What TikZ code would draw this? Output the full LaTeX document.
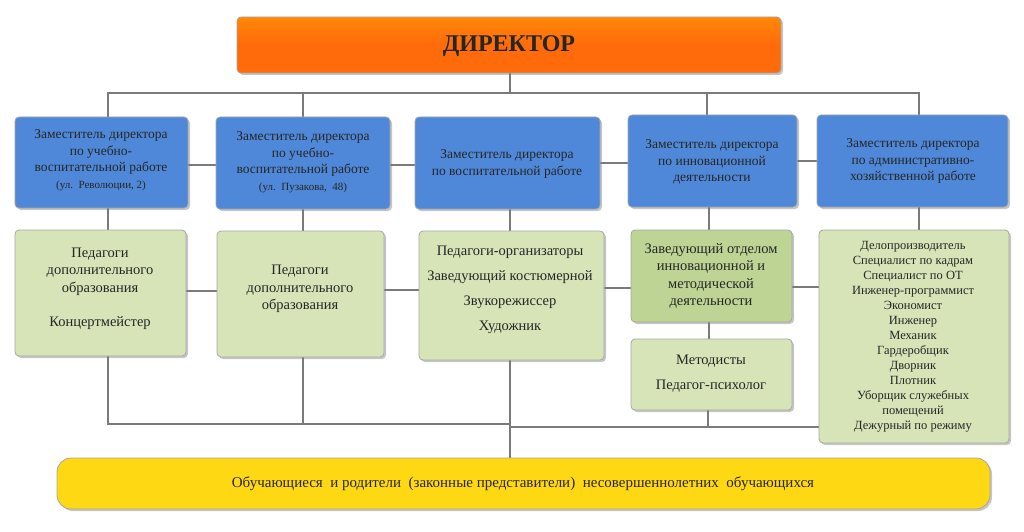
\documentclass[tikz,border=0pt]{standalone}
\usepackage{fontspec}
\setmainfont{Liberation Serif}
\usetikzlibrary{shadows}
\definecolor{bl}{HTML}{4F88D8}
\definecolor{gr}{HTML}{D6E4B8}
\definecolor{gr2}{HTML}{BDD494}
\definecolor{org}{HTML}{FF6A0A}
\definecolor{yel}{HTML}{FFD814}
\definecolor{ln}{HTML}{7A7A7A}
\tikzset{
 bx/.style={draw=gray!70,line width=0.8pt,rounded corners=4pt,drop shadow={opacity=0.45,shadow xshift=2pt,shadow yshift=-2pt}},
 conn/.style={draw=ln,line width=1.4pt},
 t/.style={font=\fontsize{13.5}{16.5}\selectfont,align=center,text=black!85},
}
\begin{document}
\begin{tikzpicture}[x=1pt,y=-1pt]
\useasboundingbox (0,0) rectangle (1024,532);
% connectors first
\draw[conn] (510,73) -- (510,93);
\draw[conn] (108,117) -- (108,93) -- (919,93) -- (919,115);
\draw[conn] (303,93) -- (303,117);
\draw[conn] (707,93) -- (707,115);
\draw[conn] (188,165) -- (216,165) (390,165) -- (415,165) (600,163) -- (628,163) (797,161) -- (817,161);
\draw[conn] (108,208) -- (108,230) (303,209) -- (303,231) (510,209) -- (510,231) (709,207) -- (709,230) (919,207) -- (919,230);
\draw[conn] (186,291) -- (217,291) (384,290) -- (419,290) (604,288) -- (631,288) (792,287) -- (819,287);
\draw[conn] (709,322) -- (709,339);
\draw[conn] (108,356) -- (108,424) -- (510,424);
\draw[conn] (303,357) -- (303,424);
\draw[conn] (510,360) -- (510,458);
\draw[conn] (510,427) -- (819,427);
\draw[conn] (708,410) -- (708,427);
% director
\path[bx,top color=org!80!yellow,bottom color=org,middle color=org] (237,17) rectangle (781,73);
\node[font=\bfseries\fontsize{24}{26}\selectfont,text=black!85] (dir) at (509,46) {ДИРЕКТОР};
% blue
\path[bx,fill=bl] (15,117) rectangle (188,208);
\node[t] (b1) at (101,160) {Заместитель директора\\по учебно-\\воспитательной работе\\{\fontsize{11}{13}\selectfont (ул.\ \ Революции, 2)}};
\path[bx,fill=bl] (216,117) rectangle (390,209);
\node[t] (b2) at (303,162) {Заместитель директора\\по учебно-\\воспитательной работе\\{\fontsize{11}{13}\selectfont (ул.\ \ Пузакова,\ \ 48)}};
\path[bx,fill=bl] (415,117) rectangle (600,209);
\node[t] (b3) at (507,164) {Заместитель директора\\по воспитательной работе};
\path[bx,fill=bl] (628,115) rectangle (797,207);
\node[t] (b4) at (712,162) {Заместитель директора\\по инновационной\\деятельности};
\path[bx,fill=bl] (817,115) rectangle (1008,207);
\node[t] (b5) at (913,161) {Заместитель директора\\по административно-\\хозяйственной работе};
% green
\path[bx,fill=gr] (15,230) rectangle (186,356);
\node[t,font=\fontsize{14.5}{17.5}\selectfont] (g1) at (100,289) {Педагоги\\дополнительного\\образования\\[17pt]Концертмейстер};
\path[bx,fill=gr] (217,231) rectangle (384,357);
\node[t,font=\fontsize{14.5}{17.5}\selectfont] (g2) at (300,289) {Педагоги\\дополнительного\\образования};
\path[bx,fill=gr] (419,231) rectangle (604,360);
\node[t,font=\fontsize{14.5}{25}\selectfont] (g3) at (510,290) {Педагоги-организаторы\\Заведующий костюмерной\\Звукорежиссер\\Художник};
\path[bx,fill=gr2] (631,230) rectangle (792,322);
\node[t,font=\fontsize{14.5}{17.5}\selectfont] (g4) at (711,276) {Заведующий отделом\\инновационной и\\методической\\деятельности};
\path[bx,fill=gr] (631,339) rectangle (792,410);
\node[t,font=\fontsize{14.5}{25}\selectfont] (g5) at (711,374) {Методисты\\Педагог-психолог};
\path[bx,fill=gr] (819,230) rectangle (1009,443);
\node[t,font=\fontsize{12.5}{15}\selectfont] (g6) at (913,337) {Делопроизводитель\\Специалист по кадрам\\Специалист по ОТ\\Инженер-программист\\Экономист\\Инженер\\Механик\\Гардеробщик\\Дворник\\Плотник\\Уборщик служебных\\помещений\\Дежурный по режиму};
% bottom
\path[bx,fill=yel,rounded corners=14pt] (57,458) rectangle (990,509);
\node[t,font=\fontsize{15}{17}\selectfont] (bot) at (523,484) {Обучающиеся \ и родители \ (законные представители) \ несовершеннолетних \ обучающихся};
\end{tikzpicture}
\end{document}
